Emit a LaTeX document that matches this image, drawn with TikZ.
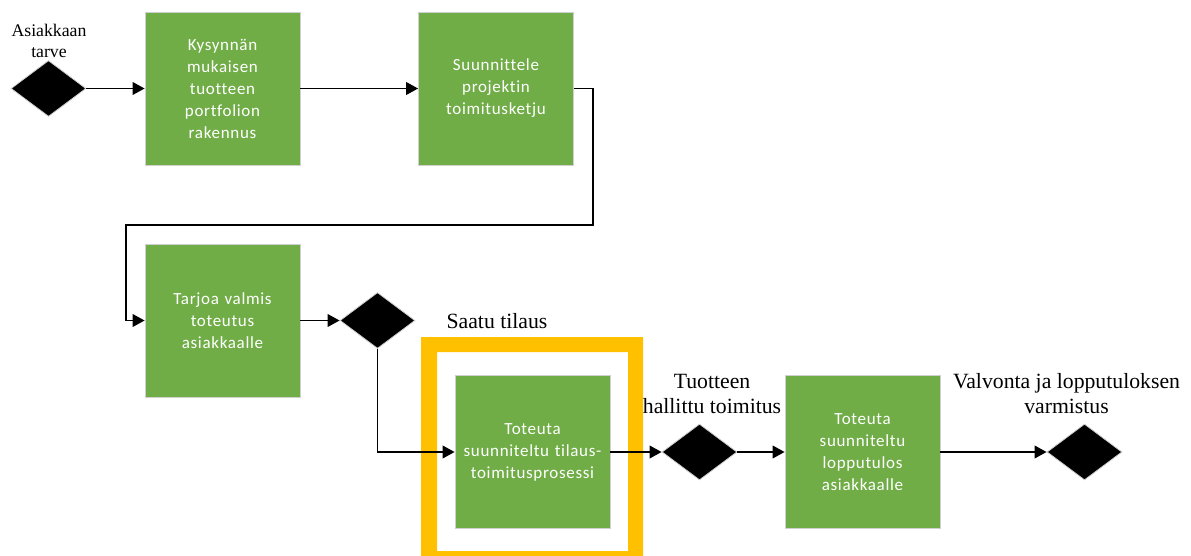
\documentclass[tikz,border=0pt]{standalone}
\usepackage{fontspec}
\setmainfont{Liberation Serif}
\newfontfamily\boxfont[LetterSpace=4,Ligatures=NoCommon]{Carlito}
\usetikzlibrary{shapes.geometric,arrows.meta}
\definecolor{procgreen}{HTML}{70AD47}
\definecolor{framegold}{HTML}{FFC000}
\definecolor{edgegray}{HTML}{D0D0D0}
\begin{document}
\begin{tikzpicture}[x=0.75pt,y=-0.75pt,
  procbox/.style={rectangle, fill=procgreen, draw=edgegray, line width=0.6pt,
    minimum width=116.25pt, minimum height=114.75pt, inner sep=2pt,
    text width=106pt, align=center, text=white,
    font=\boxfont\fontsize{12.75}{16.5}\selectfont},
  decision/.style={diamond, fill=black, draw=edgegray, line width=0.6pt,
    minimum width=56.25pt, minimum height=42pt, inner sep=0pt},
  caption/.style={align=center, inner sep=0pt,
    font=\fontsize{16.3}{18.75}\selectfont},
  flow/.style={line width=1.3pt, -{Triangle[length=9pt,width=9.5pt]}}]
\useasboundingbox (0,0) rectangle (1191,556);

% highlight frame around the order-delivery step
\fill[framegold, even odd rule] (421,337) rectangle (643,570)
  (437,352) rectangle (628,551);

% decisions
\node[decision] (d1) at (48.5,88.5) {};
\node[decision] (d2) at (377.5,320.5) {};
\node[decision] (d3) at (699.5,452) {};
\node[decision] (d4) at (1084.5,452) {};

% process steps
\node[procbox] (b1) at (222.5,88.5) {Kysynnän\\mukaisen\\tuotteen\\portfolion\\rakennus};
\node[procbox] (b2) at (496,88.5) {Suunnittele\\projektin\\toimitusketju};
\node[procbox] (b3) at (222.5,320.5) {Tarjoa valmis\\toteutus\\asiakkaalle};
\node[procbox] (b4) at (532.5,452) {Toteuta\\suunniteltu tilaus-\\toimitusprosessi};
\node[procbox] (b5) at (862.5,452) {Toteuta\\suunniteltu\\lopputulos\\asiakkaalle};

% captions
\node[caption, font=\fontsize{13.3}{15.75}\selectfont] (l1) at (49,41) {Asiakkaan\\tarve};
\node[caption] (l2) at (497,321) {Saatu tilaus};
\node[caption] (l3) at (712,394) {Tuotteen\\hallittu toimitus};
\node[caption] (l4) at (1066.5,394) {Valvonta ja lopputuloksen\\varmistus};

% routing points of the return line
\coordinate (r1) at (593,225);
\coordinate (r2) at (126,225);

% connectors
\draw[flow] (d1.east) -- (b1.west);
\draw[flow] (b1.east) -- (b2.west);
\draw[flow] (b2.east) -| (r1) -- (r2) |- (b3.west);
\draw[flow] (b3.east) -- (d2.west);
\draw[flow] (d2.south) |- (b4.west);
\draw[flow] (b4.east) -- (d3.west);
\draw[flow] (d3.east) -- (b5.west);
\draw[flow] (b5.east) -- (d4.west);
\end{tikzpicture}
\end{document}
